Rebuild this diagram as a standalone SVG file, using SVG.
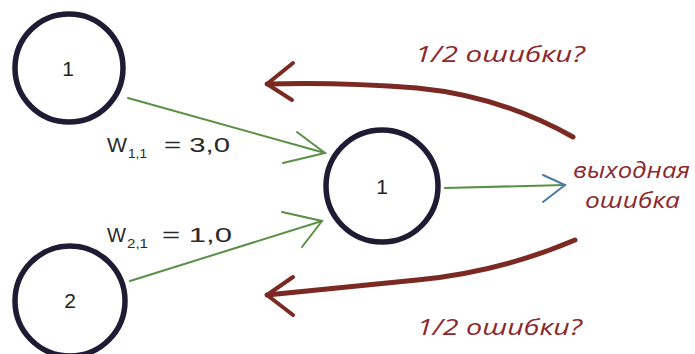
<svg xmlns="http://www.w3.org/2000/svg" width="695" height="354" viewBox="0 0 695 354">
<defs>
<style>
.node{fill:none;stroke:#1f1b33;stroke-width:5.5}
.num{font-family:"Liberation Sans",sans-serif;font-size:21px;fill:#222;text-anchor:middle}
.green{fill:none;stroke:#5a8f45;stroke-width:2;stroke-linecap:round}
.red{fill:none;stroke:#7a2a22;stroke-width:5;stroke-linecap:round}
.redhead{fill:none;stroke:#7a2a22;stroke-width:4;stroke-linecap:round;stroke-linejoin:round}
.lbl{font-family:"Liberation Sans",sans-serif;font-size:21px;fill:#2a2a2a}
.sub{font-family:"Liberation Sans",sans-serif;font-size:13px;fill:#2a2a2a}
.err{font-family:"Open Sans",sans-serif;font-style:italic;font-size:22px;fill:#8a2a30}
</style>
</defs>
<rect width="695" height="354" fill="#ffffff"/>
<g id="node-in1">
<circle class="node" cx="69" cy="68" r="54"/>
<text class="num" x="68" y="76">1</text>
</g>
<g id="node-in2">
<circle class="node" cx="70" cy="301" r="55"/>
<text class="num" x="70" y="308">2</text>
</g>
<g id="node-out">
<circle class="node" cx="382" cy="186" r="56"/>
<text class="num" x="382" y="194">1</text>
</g>
<g id="connectors">
<path class="green" d="M128 98 L325 153"/>
<path class="green" d="M297 132 L325 153 L283 163"/>
<path class="green" d="M130 281 L322 221"/>
<path class="green" d="M282 212 L322 221 L302 247"/>
<path class="green" d="M445 188 L565 185"/>
<path fill="none" stroke="#4a7aa8" stroke-width="2" stroke-linecap="round" d="M543 175 L565 185 L543 202"/>
<path class="red" d="M573 137 Q500 96 417 88 Q340 82 267 84"/>
<path class="redhead" d="M293 63 L267 84 L292 100"/>
<path class="red" d="M575 240 Q500 272 417 280 Q340 288 267 295"/>
<path class="redhead" d="M293 277 L267 295 L293 315"/>
</g>
<g id="labels">
<text class="lbl" x="107" y="152" textLength="20" lengthAdjust="spacingAndGlyphs">W</text>
<text class="sub" x="128" y="158" textLength="19" lengthAdjust="spacingAndGlyphs">1,1</text>
<text class="lbl" x="164" y="152" textLength="66" lengthAdjust="spacingAndGlyphs">= 3,0</text>
<text class="lbl" x="107" y="242" textLength="19" lengthAdjust="spacingAndGlyphs">W</text>
<text class="sub" x="127" y="248" textLength="21" lengthAdjust="spacingAndGlyphs">2,1</text>
<text class="lbl" x="162" y="242" textLength="70" lengthAdjust="spacingAndGlyphs">= 1,0</text>
<text class="err" x="415" y="62" textLength="170" lengthAdjust="spacingAndGlyphs">1/2 ошибки?</text>
<text class="err" x="417" y="335" textLength="165" lengthAdjust="spacingAndGlyphs">1/2 ошибки?</text>
<text class="err" x="573" y="178" textLength="117" lengthAdjust="spacingAndGlyphs">выходная</text>
<text class="err" x="585" y="208" textLength="95" lengthAdjust="spacingAndGlyphs">ошибка</text>
</g>
</svg>
